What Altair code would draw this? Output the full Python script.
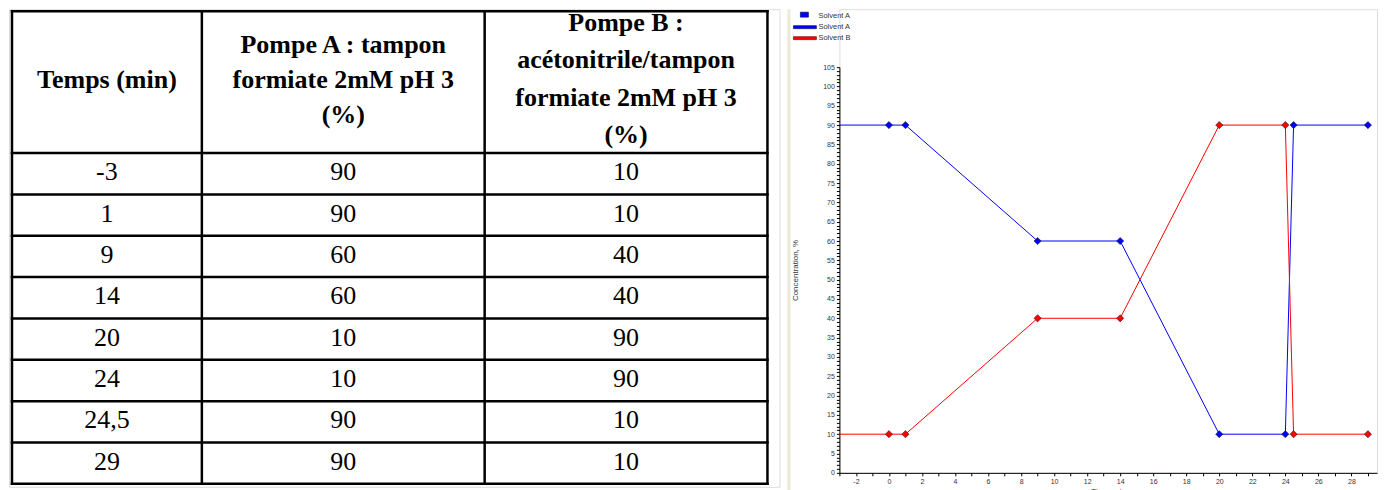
import altair as alt
import pandas as pd

# ---------------- data ----------------
time_labels = ["-3", "1", "9", "14", "20", "24", "24,5", "29"]
pompe_a = [90, 90, 60, 60, 10, 10, 90, 90]
pompe_b = [10, 10, 40, 40, 90, 90, 10, 10]
header_1 = ["Temps (min)"]
header_2 = ["Pompe A : tampon", "formiate 2mM pH 3", "(%)"]
header_3 = ["Pompe B :", "acétonitrile/tampon", "formiate 2mM pH 3", "(%)"]

chart_time = [-3, 0, 1, 9, 14, 20, 24, 24.5, 29]
solvent_a = [90, 90, 90, 60, 60, 10, 10, 90, 90]
solvent_b = [10, 10, 10, 40, 40, 90, 90, 10, 10]
legend_labels = ["Solvent A", "Solvent A", "Solvent B"]

# ---------------- table layout ----------------
TABLE_W, TABLE_H = 771, 478
col_edges = [3, 193, 476, 759]
top_edge, header_bottom, row_h = 2, 144, 41.375
header_centers = [71, 71, 70]
line_heights = [35, 35, 37.5]
bottom_edge = header_bottom + row_h * len(time_labels)

cells = []
for i, vals in enumerate(zip(time_labels, pompe_a, pompe_b)):
    for j, v in enumerate(vals):
        cells.append({"cx": (col_edges[j] + col_edges[j + 1]) / 2,
                      "cy": header_bottom + row_h * (i + 0.5) - 1.5,
                      "txt": str(v)})
cells = pd.DataFrame(cells)

heads = []
for j, lines in enumerate([header_1, header_2, header_3]):
    n = len(lines)
    for k, t in enumerate(lines):
        heads.append({"cx": (col_edges[j] + col_edges[j + 1]) / 2,
                      "cy": header_centers[j] + (k - (n - 1) / 2) * line_heights[j],
                      "txt": t})
heads = pd.DataFrame(heads)

vlines = pd.DataFrame({"x": col_edges, "y": top_edge, "y2": bottom_edge})
hys = [top_edge, header_bottom] + [header_bottom + row_h * (i + 1) for i in range(len(time_labels))]
hlines = pd.DataFrame({"y": hys, "x": col_edges[0], "x2": col_edges[-1]})

X = lambda f: alt.X(f, scale=None, axis=None)
Y = lambda f: alt.Y(f, scale=None, axis=None)

rule_v = alt.Chart(vlines).mark_rule(color="black", strokeWidth=2.5, strokeCap="square").encode(
    x=X("x:Q"), y=Y("y:Q"), y2="y2:Q")
rule_h = alt.Chart(hlines).mark_rule(color="black", strokeWidth=2.5, strokeCap="square").encode(
    x=X("x:Q"), x2="x2:Q", y=Y("y:Q"))
body = alt.Chart(cells).mark_text(font="Liberation Serif", fontSize=26, color="black",
                                  baseline="middle", align="center").encode(
    x=X("cx:Q"), y=Y("cy:Q"), text="txt:N")
head = alt.Chart(heads).mark_text(font="Liberation Serif", fontSize=26, fontWeight="bold",
                                  color="black", baseline="middle", align="center").encode(
    x=X("cx:Q"), y=Y("cy:Q"), text="txt:N")

table = alt.layer(rule_v, rule_h, body, head).properties(width=TABLE_W, height=TABLE_H)

# ---------------- gradient chart ----------------
CHART_W, CHART_H = 538, 464
PLOT_TOP = 58

df = pd.concat([
    pd.DataFrame({"time": chart_time, "value": solvent_a, "solvent": "Solvent A"}),
    pd.DataFrame({"time": chart_time, "value": solvent_b, "solvent": "Solvent B"}),
])

xs = alt.Scale(domain=[-3, 29.55], nice=False, zero=False)
ys = alt.Scale(domain=[0, 105], range=[CHART_H, PLOT_TOP], nice=False, zero=False)
cs = alt.Scale(domain=["Solvent A", "Solvent B"], range=["#0000ff", "#ff0000"])

x_axis = alt.Axis(values=list(range(-3, 30)),
                  labelExpr="datum.value % 2 == 0 ? '' + datum.value : ''",
                  tickSize=3, tickColor="#000", domainColor="#000",
                  labelFont="Liberation Sans", labelFontSize=7, labelColor="#333",
                  labelPadding=2, labelOverlap=False, labelFlush=False, grid=False,
                  title="Time, min", titleFont="Liberation Sans", titleFontSize=8,
                  titleFontWeight="normal", titleColor="#333", titlePadding=3)
y_axis = alt.Axis(values=list(range(0, 106)),
                  labelExpr="datum.value % 5 == 0 ? '' + datum.value : ''",
                  tickSize=3, tickColor="#000", domainColor="#000",
                  labelFont="Liberation Sans", labelFontSize=7, labelColor="#333",
                  labelPadding=2, labelOverlap=False, labelFlush=False, grid=False,
                  title="Concentration, %", titleFont="Liberation Sans", titleFontSize=8,
                  titleFontWeight="normal", titleColor="#333", titleX=-40)

base = alt.Chart(df).encode(
    x=alt.X("time:Q", scale=xs, axis=x_axis),
    y=alt.Y("value:Q", scale=ys, axis=y_axis),
    color=alt.Color("solvent:N", scale=cs, legend=None),
)
lines = base.mark_line(strokeWidth=1)
pts = base.mark_point(shape="diamond", filled=True, size=52, opacity=1,
                      stroke="#222", strokeWidth=0.6).transform_filter("datum.time >= 0")

one = pd.DataFrame({"k": [0]})
strip = alt.Chart(one).mark_rect(color="#ece9d8").encode(
    x=alt.value(-52), x2=alt.value(-49), y=alt.value(0), y2=alt.value(TABLE_H + 4))
leg_sq = alt.Chart(one).mark_rect(fill="#0000ff", stroke="#000060", strokeWidth=0.6).encode(
    x=alt.value(-39), x2=alt.value(-31), y=alt.value(3), y2=alt.value(8))
leg_a = alt.Chart(one).mark_rect(fill="#0000ff", stroke="#000060", strokeWidth=0.6).encode(
    x=alt.value(-46), x2=alt.value(-23), y=alt.value(16.5), y2=alt.value(19.5))
leg_b = alt.Chart(one).mark_rect(fill="#ff0000", stroke="#600000", strokeWidth=0.6).encode(
    x=alt.value(-46), x2=alt.value(-23), y=alt.value(27.5), y2=alt.value(30.5))
leg_txt = [
    alt.Chart(one).mark_text(text=legend_labels[i], font="Liberation Sans", fontSize=7.5,
                             color="#333", align="left", baseline="middle").encode(
        x=alt.value(-21), y=alt.value(yv))
    for i, yv in enumerate([6.5, 18, 29])
]

gradient = alt.layer(strip, lines, pts, leg_sq, leg_a, leg_b, *leg_txt).properties(
    width=CHART_W, height=CHART_H)

chart = alt.hconcat(table, gradient, spacing=60, bounds="flush").properties(
    padding=0).configure_view(strokeWidth=0).configure(background="white")

chart.save("out.html", embed_options={"renderer": "svg", "actions": False})
